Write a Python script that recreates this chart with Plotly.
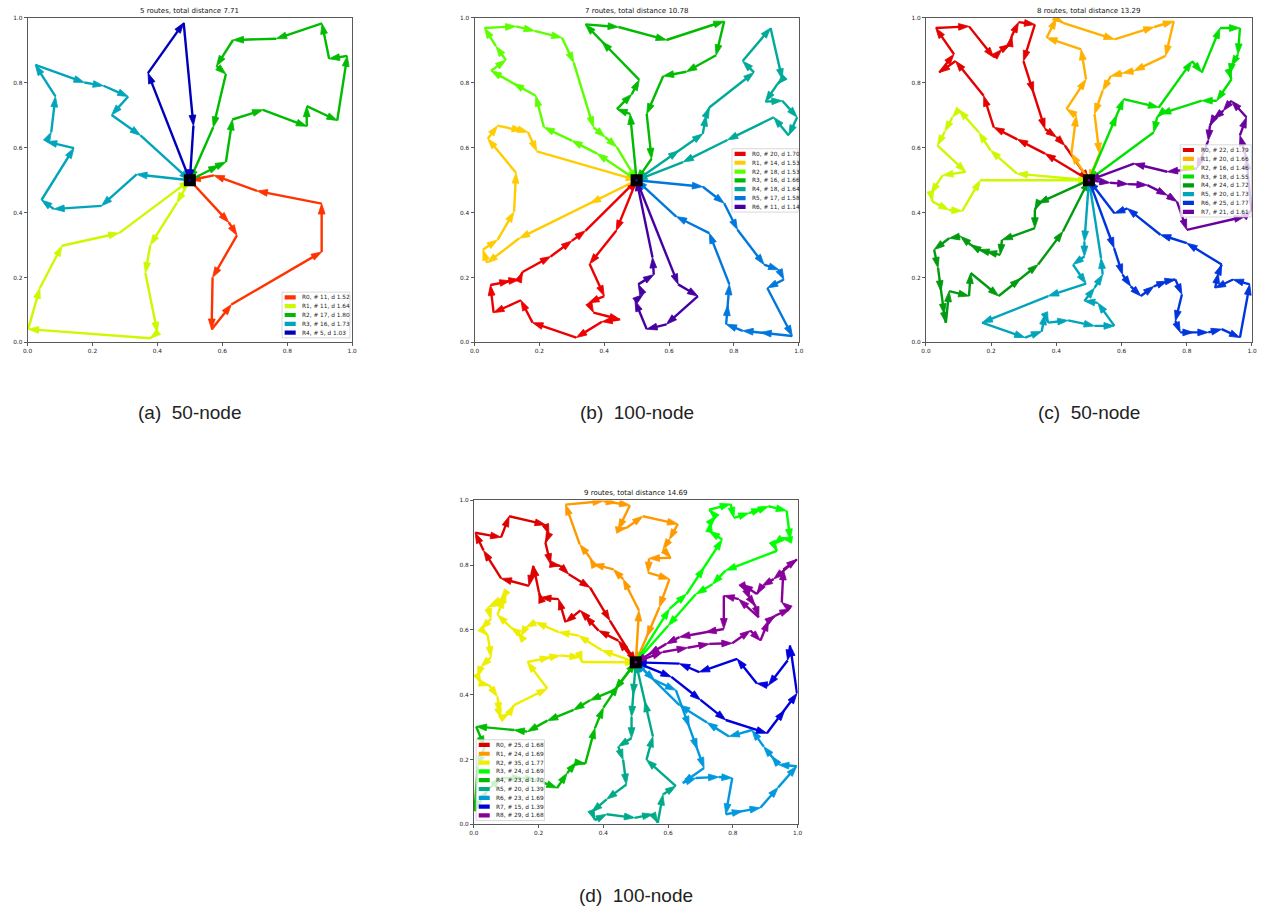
import numpy as np
import plotly.graph_objects as go

DEPOT = (0.5, 0.5)

# ---------------- (a) 50 customers, 5 routes ----------------
A_R0 = [(0.62, 0.37), (0.645, 0.33), (0.57, 0.20), (0.567, 0.04), (0.628, 0.117),
        (0.906, 0.279), (0.906, 0.428), (0.707, 0.467), (0.574, 0.515)]
A_R1 = [(0.46, 0.43), (0.378, 0.30), (0.363, 0.214), (0.40, 0.03), (0.378, 0.013),
        (0.002, 0.041), (0.038, 0.168), (0.106, 0.298), (0.282, 0.337)]
A_R2 = [(0.59, 0.546), (0.611, 0.556), (0.631, 0.687), (0.725, 0.717), (0.86, 0.666),
        (0.86, 0.728), (0.954, 0.684), (0.985, 0.883), (0.929, 0.874), (0.907, 0.983),
        (0.766, 0.936), (0.633, 0.932), (0.582, 0.852), (0.611, 0.827), (0.572, 0.663)]
A_R3 = [(0.336, 0.518), (0.228, 0.421), (0.081, 0.411), (0.043, 0.439), (0.143, 0.599),
        (0.058, 0.619), (0.073, 0.648), (0.086, 0.758), (0.024, 0.855), (0.175, 0.801),
        (0.234, 0.791), (0.31, 0.758), (0.259, 0.701), (0.348, 0.638)]
A_R4 = [(0.371, 0.83), (0.481, 0.985), (0.511, 0.668)]
A_DIST = [1.52, 1.64, 1.80, 1.73, 1.03]
A_TOTAL = 7.71

# ---------------- (b) 100 customers, 7 routes ----------------
B_R0 = [(0.437, 0.344), (0.355, 0.242), (0.40, 0.143), (0.352, 0.122), (0.367, 0.092),
        (0.449, 0.071), (0.393, 0.064), (0.314, 0.015), (0.179, 0.061), (0.143, 0.13),
        (0.059, 0.092), (0.049, 0.177), (0.11, 0.19), (0.138, 0.194), (0.148, 0.217),
        (0.235, 0.265), (0.30, 0.313), (0.342, 0.344)]
B_R1 = [(0.357, 0.429), (0.138, 0.321), (0.039, 0.245), (0.026, 0.286), (0.071, 0.316),
        (0.122, 0.403), (0.128, 0.523), (0.041, 0.628), (0.071, 0.668), (0.148, 0.653),
        (0.165, 0.648), (0.192, 0.589)]
B_R2 = [(0.378, 0.582), (0.30, 0.622), (0.214, 0.663), (0.189, 0.760), (0.12, 0.798),
        (0.051, 0.837), (0.097, 0.870), (0.066, 0.913), (0.031, 0.969), (0.128, 0.974),
        (0.185, 0.96), (0.27, 0.939), (0.306, 0.862), (0.367, 0.663), (0.403, 0.633),
        (0.439, 0.602)]
B_R3 = [(0.48, 0.704), (0.439, 0.719), (0.485, 0.765), (0.508, 0.809), (0.393, 0.927),
        (0.342, 0.98), (0.444, 0.972), (0.592, 0.932), (0.77, 0.99), (0.745, 0.885),
        (0.653, 0.834), (0.582, 0.821), (0.531, 0.704), (0.546, 0.566)]
B_R4 = [(0.63, 0.591), (0.704, 0.643), (0.714, 0.699), (0.724, 0.724), (0.862, 0.832),
        (0.827, 0.867), (0.913, 0.969), (0.949, 0.811), (0.934, 0.796), (0.897, 0.742),
        (0.949, 0.745), (0.995, 0.694), (0.969, 0.638), (0.923, 0.694), (0.78, 0.624),
        (0.643, 0.556)]
B_R5 = [(0.704, 0.48), (0.77, 0.429), (0.811, 0.347), (0.893, 0.24), (0.939, 0.224),
        (0.954, 0.194), (0.903, 0.168), (0.98, 0.02), (0.883, 0.031), (0.827, 0.036),
        (0.776, 0.056), (0.781, 0.115), (0.786, 0.179), (0.724, 0.337), (0.622, 0.388)]
B_R6 = [(0.628, 0.179), (0.689, 0.143), (0.592, 0.056), (0.531, 0.041), (0.495, 0.128),
        (0.52, 0.148), (0.505, 0.179), (0.553, 0.209), (0.549, 0.262)]
B_DIST = [1.70, 1.53, 1.53, 1.66, 1.64, 1.58, 1.14]
B_TOTAL = 10.78

# ---------------- (c) 150 customers, 8 routes ----------------
C_R0 = [(0.365, 0.582), (0.28, 0.626), (0.208, 0.663), (0.177, 0.76), (0.091, 0.867),
        (0.041, 0.832), (0.086, 0.888), (0.03, 0.969), (0.132, 0.974), (0.208, 0.878),
        (0.233, 0.903), (0.258, 0.918), (0.263, 0.944), (0.284, 0.987), (0.334, 0.98),
        (0.299, 0.867), (0.33, 0.77), (0.365, 0.658), (0.40, 0.633), (0.426, 0.607)]
C_R1 = [(0.446, 0.582), (0.461, 0.699), (0.431, 0.719), (0.491, 0.811), (0.476, 0.903),
        (0.37, 0.939), (0.40, 0.998), (0.42, 0.985), (0.578, 0.934), (0.70, 0.972),
        (0.76, 0.99), (0.735, 0.883), (0.638, 0.837), (0.603, 0.83), (0.567, 0.821),
        (0.542, 0.776), (0.517, 0.704), (0.532, 0.582)]
C_R2 = [(0.279, 0.52), (0.198, 0.592), (0.162, 0.648), (0.101, 0.717), (0.081, 0.694),
        (0.058, 0.65), (0.035, 0.607), (0.122, 0.526), (0.051, 0.515), (0.015, 0.459),
        (0.02, 0.434), (0.071, 0.408), (0.111, 0.405), (0.167, 0.50)]
C_R3 = [(0.585, 0.70), (0.606, 0.75), (0.714, 0.724), (0.816, 0.867), (0.846, 0.832),
        (0.902, 0.969), (0.963, 0.969), (0.957, 0.888), (0.937, 0.852), (0.932, 0.827),
        (0.937, 0.811), (0.892, 0.745), (0.846, 0.745), (0.719, 0.704), (0.709, 0.694),
        (0.699, 0.648)]
C_R4 = [(0.344, 0.429), (0.334, 0.408), (0.334, 0.352), (0.233, 0.316), (0.228, 0.27),
        (0.185, 0.28), (0.162, 0.286), (0.137, 0.301), (0.106, 0.327), (0.071, 0.321),
        (0.025, 0.286), (0.037, 0.23), (0.046, 0.158), (0.056, 0.087), (0.061, 0.061),
        (0.071, 0.158), (0.132, 0.143), (0.137, 0.214), (0.223, 0.143), (0.29, 0.197),
        (0.344, 0.24), (0.42, 0.342)]
C_R5 = [(0.486, 0.311), (0.486, 0.265), (0.451, 0.24), (0.491, 0.181), (0.375, 0.143),
        (0.172, 0.061), (0.304, 0.015), (0.355, 0.034), (0.365, 0.087), (0.375, 0.061),
        (0.436, 0.068), (0.517, 0.051), (0.578, 0.051), (0.527, 0.122), (0.486, 0.128),
        (0.517, 0.168), (0.542, 0.209), (0.537, 0.26)]
C_R6 = [(0.577, 0.291), (0.603, 0.209), (0.628, 0.173), (0.659, 0.143), (0.699, 0.173),
        (0.74, 0.189), (0.765, 0.194), (0.785, 0.148), (0.765, 0.066), (0.78, 0.031),
        (0.82, 0.031), (0.866, 0.031), (0.907, 0.041), (0.963, 0.015), (0.993, 0.179),
        (0.942, 0.194), (0.887, 0.168), (0.897, 0.214), (0.907, 0.24), (0.80, 0.306),
        (0.719, 0.332), (0.618, 0.413), (0.578, 0.398)]
C_R7 = [(0.565, 0.492), (0.62, 0.488), (0.679, 0.485), (0.74, 0.454), (0.77, 0.434),
        (0.80, 0.347), (0.978, 0.388), (0.998, 0.408), (0.983, 0.566), (0.963, 0.638),
        (0.983, 0.694), (0.937, 0.745), (0.912, 0.714), (0.882, 0.689), (0.871, 0.668),
        (0.866, 0.622), (0.831, 0.536), (0.74, 0.526), (0.638, 0.551)]
C_DIST = [1.79, 1.66, 1.46, 1.55, 1.72, 1.73, 1.77, 1.61]
C_TOTAL = 13.29

# ---------------- (d) 200 customers, 9 routes ----------------
D_R0 = [(0.446, 0.567), (0.385, 0.598), (0.344, 0.644), (0.329, 0.66), (0.283, 0.624),
        (0.262, 0.695), (0.206, 0.70), (0.201, 0.716), (0.184, 0.798), (0.17, 0.736),
        (0.084, 0.759), (0.03, 0.845), (0.004, 0.90), (0.084, 0.886), (0.109, 0.951),
        (0.221, 0.925), (0.232, 0.895), (0.221, 0.869), (0.237, 0.803), (0.267, 0.798),
        (0.293, 0.772), (0.359, 0.731), (0.42, 0.629)]
D_R1 = [(0.51, 0.66), (0.461, 0.757), (0.431, 0.787), (0.369, 0.803), (0.359, 0.823),
        (0.327, 0.864), (0.283, 0.987), (0.40, 0.998), (0.441, 0.992), (0.482, 0.985),
        (0.446, 0.91), (0.471, 0.915), (0.522, 0.951), (0.63, 0.927), (0.604, 0.879),
        (0.584, 0.849), (0.609, 0.823), (0.541, 0.821), (0.538, 0.777), (0.604, 0.757),
        (0.573, 0.67), (0.534, 0.58)]
D_R2 = [(0.395, 0.537), (0.323, 0.583), (0.262, 0.593), (0.191, 0.624), (0.16, 0.608),
        (0.145, 0.58), (0.135, 0.593), (0.114, 0.608), (0.073, 0.647), (0.094, 0.70),
        (0.099, 0.716), (0.084, 0.695), (0.053, 0.675), (0.043, 0.67), (0.053, 0.634),
        (0.022, 0.603), (0.043, 0.583), (0.053, 0.516), (0.022, 0.486), (0.012, 0.455),
        (0.022, 0.435), (0.048, 0.429), (0.073, 0.394), (0.079, 0.343), (0.084, 0.327),
        (0.109, 0.343), (0.124, 0.368), (0.227, 0.419), (0.165, 0.501), (0.237, 0.516),
        (0.267, 0.521), (0.329, 0.516), (0.334, 0.501)]
D_R3 = [(0.604, 0.665), (0.657, 0.711), (0.711, 0.793), (0.767, 0.879), (0.727, 0.905),
        (0.732, 0.934), (0.747, 0.951), (0.727, 0.971), (0.793, 0.989), (0.803, 0.946),
        (0.85, 0.961), (0.89, 0.974), (0.91, 0.982), (0.966, 0.968), (0.977, 0.879),
        (0.951, 0.884), (0.926, 0.864), (0.936, 0.844), (0.778, 0.784), (0.737, 0.741),
        (0.686, 0.711), (0.6, 0.613)]
D_R4 = [(0.436, 0.416), (0.359, 0.383), (0.308, 0.353), (0.227, 0.32), (0.165, 0.286),
        (0.124, 0.291), (0.007, 0.302), (0.033, 0.24), (0.012, 0.179), (0.002, 0.041),
        (0.043, 0.107), (0.084, 0.143), (0.15, 0.143), (0.191, 0.138), (0.257, 0.112),
        (0.288, 0.158), (0.316, 0.191), (0.344, 0.187), (0.374, 0.297), (0.40, 0.36),
        (0.446, 0.429)]
D_R5 = [(0.492, 0.40), (0.487, 0.332), (0.487, 0.266), (0.446, 0.24), (0.461, 0.199),
        (0.471, 0.123), (0.41, 0.077), (0.364, 0.038), (0.374, 0.013), (0.41, 0.031),
        (0.497, 0.02), (0.553, 0.031), (0.568, 0.005), (0.584, 0.092), (0.624, 0.118),
        (0.533, 0.199), (0.553, 0.271), (0.528, 0.38)]
D_R6 = [(0.558, 0.445), (0.624, 0.414), (0.665, 0.301), (0.69, 0.232), (0.711, 0.174),
        (0.645, 0.128), (0.686, 0.143), (0.757, 0.146), (0.798, 0.143), (0.778, 0.031),
        (0.83, 0.041), (0.885, 0.051), (0.94, 0.114), (0.997, 0.179), (0.941, 0.184),
        (0.92, 0.21), (0.895, 0.24), (0.859, 0.291), (0.788, 0.271), (0.72, 0.314),
        (0.635, 0.368)]
D_R7 = [(0.61, 0.455), (0.70, 0.384), (0.778, 0.322), (0.905, 0.281), (0.96, 0.352),
        (0.998, 0.404), (0.977, 0.552), (0.969, 0.506), (0.91, 0.429), (0.874, 0.435),
        (0.813, 0.511), (0.696, 0.47), (0.635, 0.496)]
D_R8 = [(0.584, 0.532), (0.66, 0.545), (0.727, 0.557), (0.798, 0.559), (0.854, 0.598),
        (0.885, 0.567), (0.91, 0.629), (0.931, 0.644), (0.977, 0.665), (0.951, 0.685),
        (0.956, 0.787), (0.998, 0.818), (0.926, 0.757), (0.89, 0.736), (0.874, 0.711),
        (0.829, 0.741), (0.844, 0.716), (0.854, 0.695), (0.869, 0.675), (0.88, 0.639),
        (0.818, 0.695), (0.772, 0.706), (0.772, 0.603), (0.716, 0.593), (0.635, 0.578),
        (0.594, 0.557), (0.54, 0.525)]
D_DIST = [1.68, 1.69, 1.77, 1.69, 1.70, 1.39, 1.69, 1.39, 1.68]
D_TOTAL = 14.69

CAPTIONS = ["(a)\u00a0 50-node", "(b)\u00a0 100-node", "(c)\u00a0 50-node", "(d)\u00a0 100-node"]
TICKS = [0.0, 0.2, 0.4, 0.6, 0.8, 1.0]

# nipy_spectral colormap stops (reversed sampling gives red -> purple)
NS_POS = np.linspace(0, 1, 21)
NS_R = [0.0, 0.4667, 0.5333, 0.0, 0.0, 0.0, 0.0, 0.0, 0.0, 0.0, 0.0, 0.0, 0.0,
        0.7333, 0.9333, 1.0, 1.0, 1.0, 0.8667, 0.8, 0.8]
NS_G = [0.0, 0.0, 0.0, 0.0, 0.0, 0.4667, 0.6, 0.6667, 0.6667, 0.6, 0.7333, 0.8667,
        1.0, 1.0, 0.9333, 0.8, 0.6, 0.0, 0.0, 0.0, 0.8]
NS_B = [0.0, 0.5333, 0.6, 0.6667, 0.8667, 0.8667, 0.8667, 0.6667, 0.5333, 0.0, 0.0,
        0.0, 0.0, 0.0, 0.0, 0.0, 0.0, 0.0, 0.0, 0.0, 0.8]


def route_color(i, n):
    f = 1.0 - (i + 1) / (n + 1)
    r, g, b = (int(round(255 * np.interp(f, NS_POS, c))) for c in (NS_R, NS_G, NS_B))
    return f"rgb({r},{g},{b})"


PANELS = [
    dict(routes=[A_R0, A_R1, A_R2, A_R3, A_R4], dist=A_DIST, total=A_TOTAL,
         dom_x=(0.0180, 0.2773), dom_y=(0.6249, 0.9835), leg=(0.784, 0.993, 0.155)),
    dict(routes=[B_R0, B_R1, B_R2, B_R3, B_R4, B_R5, B_R6], dist=B_DIST, total=B_TOTAL,
         dom_x=(0.3750, 0.6340), dom_y=(0.6249, 0.9835), leg=(0.794, 0.998, 0.597)),
    dict(routes=[C_R0, C_R1, C_R2, C_R3, C_R4, C_R5, C_R6, C_R7], dist=C_DIST, total=C_TOTAL,
         dom_x=(0.7356, 0.9960), dom_y=(0.6249, 0.9835), leg=(0.780, 0.998, 0.609)),
    dict(routes=[D_R0, D_R1, D_R2, D_R3, D_R4, D_R5, D_R6, D_R7, D_R8], dist=D_DIST, total=D_TOTAL,
         dom_x=(0.3745, 0.6331), dom_y=(0.0925, 0.4504), leg=(0.007, 0.218, 0.261)),
]

CAPTION_Y = [0.547, 0.547, 0.547, 0.0140]

TEXT_FONT = "DejaVu Sans"
AXIS_COLOR = "rgba(0,0,0,0.65)"

fig = go.Figure()
shapes = []
annotations = []
layout_axes = {}

for p, panel in enumerate(PANELS):
    suffix = "" if p == 0 else str(p + 1)
    xr, yr = "x" + suffix, "y" + suffix
    routes = panel["routes"]
    n = len(routes)
    colors = [route_color(i, n) for i in range(n)]

    for i, route in enumerate(routes):
        xs = [DEPOT[0]] + [pt[0] for pt in route] + [DEPOT[0]]
        ys = [DEPOT[1]] + [pt[1] for pt in route] + [DEPOT[1]]
        sizes = [0] + [11] * (len(xs) - 1)
        fig.add_trace(go.Scatter(
            x=xs, y=ys, xaxis=xr, yaxis=yr, mode="lines+markers",
            line=dict(color=colors[i], width=2.4),
            marker=dict(symbol="arrow", angleref="previous", size=sizes, opacity=1,
                        color=colors[i], line=dict(width=0.8, color=colors[i])),
            opacity=1, showlegend=False, hoverinfo="skip"))

    # depot
    fig.add_trace(go.Scatter(x=[DEPOT[0]], y=[DEPOT[1]], xaxis=xr, yaxis=yr, mode="markers",
                             marker=dict(symbol="square", size=12, color="black"),
                             showlegend=False, hoverinfo="skip"))
    fig.add_trace(go.Scatter(x=[DEPOT[0]], y=[DEPOT[1]], xaxis=xr, yaxis=yr, mode="markers",
                             marker=dict(symbol="circle", size=2.5, color=colors[-1]),
                             showlegend=False, hoverinfo="skip"))

    axis_common = dict(range=[0, 1], showgrid=False, zeroline=False, showline=True,
                       mirror=True, linecolor=AXIS_COLOR, linewidth=1, ticks="outside",
                       ticklen=3, tickwidth=0.7, tickcolor=AXIS_COLOR,
                       tickvals=TICKS, ticktext=[f"{t:.1f}" for t in TICKS],
                       tickfont=dict(family=TEXT_FONT, size=5.8, color="#222"),
                       fixedrange=True)
    layout_axes["xaxis" + suffix] = dict(axis_common, domain=list(panel["dom_x"]), anchor=yr)
    layout_axes["yaxis" + suffix] = dict(axis_common, domain=list(panel["dom_y"]), anchor=xr)

    # title
    annotations.append(dict(
        text=f"{n} routes, total distance {panel['total']:.2f}",
        xref=xr + " domain", yref=yr + " domain", x=0.5, y=1.0,
        xanchor="center", yanchor="bottom", yshift=1, showarrow=False,
        font=dict(family=TEXT_FONT, size=7, color="#111")))

    # legend box drawn inside the axes
    lx0, lx1, ltop = panel["leg"]
    pad, step = 0.016, 0.0272
    lbot = ltop - 2 * pad - (n - 1) * step
    shapes.append(dict(type="rect", xref=xr, yref=yr, x0=lx0, x1=lx1, y0=lbot, y1=ltop,
                       fillcolor="rgba(255,255,255,0.8)",
                       line=dict(color="rgba(200,200,200,0.9)", width=0.8), layer="above"))
    for i in range(n):
        yc = ltop - pad - i * step
        shapes.append(dict(type="rect", xref=xr, yref=yr, x0=lx0 + 0.008, x1=lx0 + 0.042,
                           y0=yc - 0.0065, y1=yc + 0.0065, fillcolor=colors[i],
                           line=dict(width=0), layer="above"))
        label = f"R{i}, # {len(routes[i]) + 2}, d {panel['dist'][i]:.2f}"
        annotations.append(dict(text=label, xref=xr, yref=yr, x=lx0 + 0.056, y=yc,
                                xanchor="left", yanchor="middle", showarrow=False,
                                font=dict(family=TEXT_FONT, size=5.8, color="#222")))

    # caption below the panel
    annotations.append(dict(text=CAPTIONS[p], xref="paper", yref="paper",
                            x=sum(panel["dom_x"]) / 2, y=CAPTION_Y[p],
                            xanchor="center", yanchor="middle", showarrow=False,
                            font=dict(family="Liberation Sans", size=19, color="#222")))

fig.update_layout(
    width=1262, height=911, margin=dict(l=0, r=0, t=0, b=0),
    paper_bgcolor="white", plot_bgcolor="white", showlegend=False,
    shapes=shapes, annotations=annotations, **layout_axes)

fig.write_html("out.html")
